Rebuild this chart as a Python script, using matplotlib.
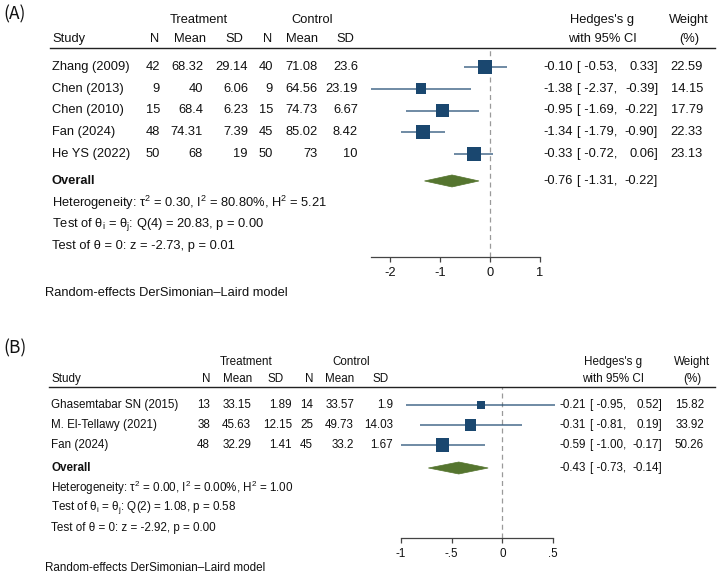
import matplotlib
matplotlib.use("Agg")
import matplotlib.pyplot as plt
from matplotlib.lines import Line2D
from matplotlib.patches import Polygon
import numpy as np

W, H = 718, 577
plt.rcParams['font.family'] = ['Liberation Sans', 'DejaVu Sans']
plt.rcParams['mathtext.fontset'] = 'custom'
plt.rcParams['mathtext.rm'] = 'Liberation Sans'
plt.rcParams['mathtext.it'] = 'Liberation Sans:italic'
plt.rcParams['axes.unicode_minus'] = False

# ---------------- Panel A data ----------------
a_studies = ["Zhang (2009)", "Chen (2013)", "Chen (2010)", "Fan (2024)", "He YS (2022)"]
a_t_n = [42, 9, 15, 48, 50]
a_t_mean = [68.32, 40, 68.4, 74.31, 68]
a_t_sd = [29.14, 6.06, 6.23, 7.39, 19]
a_c_n = [40, 9, 15, 45, 50]
a_c_mean = [71.08, 64.56, 74.73, 85.02, 73]
a_c_sd = [23.6, 23.19, 6.67, 8.42, 10]
a_g = [-0.10, -1.38, -0.95, -1.34, -0.33]
a_lo = [-0.53, -2.37, -1.69, -1.79, -0.72]
a_hi = [0.33, -0.39, -0.22, -0.90, 0.06]
a_w = [22.59, 14.15, 17.79, 22.33, 23.13]
a_overall = [-0.76, -1.31, -0.22]
a_stats = ["Heterogeneity: τ$^2$ = 0.30, I$^2$ = 80.80%, H$^2$ = 5.21",
           "Test of θ$_{\\mathrm{i}}$ = θ$_{\\mathrm{j}}$: Q(4) = 20.83, p = 0.00",
           "Test of θ = 0: z = -2.73, p = 0.01"]
a_ticks = [-2, -1, 0, 1]
a_ticklabels = ["-2", "-1", "0", "1"]

# ---------------- Panel B data ----------------
b_studies = ["Ghasemtabar SN (2015)", "M. El-Tellawy (2021)", "Fan (2024)"]
b_t_n = [13, 38, 48]
b_t_mean = [33.15, 45.63, 32.29]
b_t_sd = [1.89, 12.15, 1.41]
b_c_n = [14, 25, 45]
b_c_mean = [33.57, 49.73, 33.2]
b_c_sd = [1.9, 14.03, 1.67]
b_g = [-0.21, -0.31, -0.59]
b_lo = [-0.95, -0.81, -1.00]
b_hi = [0.52, 0.19, -0.17]
b_w = [15.82, 33.92, 50.26]
b_overall = [-0.43, -0.73, -0.14]
b_stats = ["Heterogeneity: τ$^2$ = 0.00, I$^2$ = 0.00%, H$^2$ = 1.00",
           "Test of θ$_{\\mathrm{i}}$ = θ$_{\\mathrm{j}}$: Q(2) = 1.08, p = 0.58",
           "Test of θ = 0: z = -2.92, p = 0.00"]
b_ticks = [-1, -0.5, 0, 0.5]
b_ticklabels = ["-1", "-.5", "0", ".5"]

col_headers = ["N", "Mean", "SD", "N", "Mean", "SD"]

NAVY = "#1a476f"
GREEN = "#55752f"
TXT = "#111111"

fig = plt.figure(figsize=(W / 100, H / 100), dpi=100)


def fx(px):
    return px / W


def fy(py):
    return 1 - py / H


def draw_panel(label, label_y, studies, t_n, t_mean, t_sd, c_n, c_mean, c_sd,
               g, lo, hi, w, overall, stats, ticks, ticklabels, L):
    fs = L['fs']
    y0, step = L['y0'], L['step']

    def rowpx(r):
        return y0 + step * r

    def put(px, r, s, ha='left', **kw):
        kw.setdefault('fontsize', fs)
        kw.setdefault('color', TXT)
        fig.text(fx(px), fy(rowpx(r)), s, ha=ha, va='center', **kw)

    fig.text(fx(3), fy(label_y), label, ha='left', va='center', fontsize=12.5,
             family=['Noto Sans CJK SC', 'DejaVu Sans'], color=TXT)

    # headers
    hr1, hr2 = L['hr1'], L['hr2']
    put(L['treat_c'], hr1, "Treatment", ha='center')
    put(L['ctrl_c'], hr1, "Control", ha='center')
    put(L['study_x'], hr2, "Study")
    for name, x in zip(col_headers, L['hcols']):
        put(x, hr2, name, ha='center')
    put(L['hg_c'], hr1, "Hedges's g", ha='center')
    put(L['hg_c'], hr2, "with 95% CI", ha='center')
    put(L['wt_c'], hr1, "Weight", ha='center')
    put(L['wt_c'], hr2, "(%)", ha='center')

    # header rule
    fig.add_artist(Line2D([fx(L['study_x'] - 2), fx(715)], [fy(L['top']), fy(L['top'])],
                          color="#222222", lw=1.0))

    E = L['E']
    for i, s in enumerate(studies):
        put(L['study_x'], i, s)
        vals = [t_n[i], t_mean[i], t_sd[i], c_n[i], c_mean[i], c_sd[i]]
        for v, x in zip(vals, L['vcols']):
            put(x, i, f"{v:g}", ha='right')
        put(E, i, f"{g[i]:.2f}", ha='right')
        put(E + L['d1'], i, f"[ {lo[i]:.2f},", ha='right')
        put(E + L['d2'], i, f"{hi[i]:.2f}]", ha='right')
        put(L['wt_r'], i, f"{w[i]:.2f}", ha='right')

    orow = L['orow']
    put(L['study_x'], orow, "Overall", fontweight='bold')
    put(E, orow, f"{overall[0]:.2f}", ha='right')
    put(E + L['d1'], orow, f"[ {overall[1]:.2f},", ha='right')
    put(E + L['d2'], orow, f"{overall[2]:.2f}]", ha='right')
    for k, s in enumerate(stats):
        put(L['study_x'], orow + 1 + k * L['sstep'], s)

    fig.text(fx(45), fy(L['model_y']), "Random-effects DerSimonian\u2013Laird model",
             ha='left', va='center', fontsize=fs, color=TXT)

    # forest axes
    xl, xr = L['xpx']
    ax = fig.add_axes([fx(xl), fy(L['bot']), (xr - xl) / W, (L['bot'] - L['top']) / H])
    ax.set_xlim(*L['xlim'])
    ax.set_ylim((L['bot'] - y0) / step, (L['top'] - y0) / step)
    ax.patch.set_alpha(0)
    for sp in ['top', 'right', 'left']:
        ax.spines[sp].set_visible(False)
    ax.spines['bottom'].set_color("#444444")
    ax.spines['bottom'].set_linewidth(0.9)
    ax.set_yticks([])
    ax.set_xticks(ticks)
    ax.set_xticklabels(ticklabels, fontsize=fs, color=TXT)
    ax.tick_params(axis='x', length=3.5, width=0.9, color="#444444", pad=4)

    ax.axvline(0, color="#9a9a9a", lw=0.9, ls=(0, (4, 3)), zorder=1)

    rows = np.arange(len(studies))
    ax.hlines(rows, lo, hi, color=NAVY, lw=1.1, alpha=0.8, zorder=2, clip_on=False)
    wmax = max(w)
    ms = L['msmax'] * 0.72 * np.sqrt(np.array(w) / wmax)
    ax.scatter(g, rows, marker='s', s=ms ** 2, color=NAVY, zorder=3, linewidths=0,
               clip_on=False)

    hh = L['dh'] / step
    dia = Polygon([(overall[1], orow), (overall[0], orow - hh), (overall[2], orow),
                   (overall[0], orow + hh)], closed=True, facecolor=GREEN,
                  edgecolor=GREEN, lw=0.5, zorder=3)
    ax.add_patch(dia)
    return ax


LA = dict(fs=9.3, y0=67, step=21.75, hr1=-2.16, hr2=-1.29, treat_c=199, ctrl_c=312,
          study_x=52, hcols=[155, 190, 234, 268, 302, 345],
          vcols=[160, 203, 248, 273, 318, 358], hg_c=602, wt_c=689,
          top=48, bot=257, E=573, d1=44, d2=85, wt_r=703, orow=5.24, sstep=0.99,
          model_y=293, xpx=(371.5, 540), xlim=(-2.37, 1.0), msmax=14, dh=6)
LB = dict(fs=8.4, y0=405, step=20, hr1=-2.15, hr2=-1.3, treat_c=246, ctrl_c=351,
          study_x=51, hcols=[206, 238, 276, 309, 340, 381],
          vcols=[210, 251, 292, 313, 354, 393], hg_c=613, wt_c=692,
          top=387, bot=538, E=586, d1=40, d2=76, wt_r=704, orow=3.15, sstep=1.0,
          model_y=568, xpx=(401, 553), xlim=(-1.0, 0.5), msmax=13.5, dh=6)

draw_panel("(A)", 14, a_studies, a_t_n, a_t_mean, a_t_sd, a_c_n, a_c_mean, a_c_sd,
           a_g, a_lo, a_hi, a_w, a_overall, a_stats, a_ticks, a_ticklabels, LA)
draw_panel("(B)", 348, b_studies, b_t_n, b_t_mean, b_t_sd, b_c_n, b_c_mean, b_c_sd,
           b_g, b_lo, b_hi, b_w, b_overall, b_stats, b_ticks, b_ticklabels, LB)

fig.savefig("out.png", dpi=100, facecolor='white')
